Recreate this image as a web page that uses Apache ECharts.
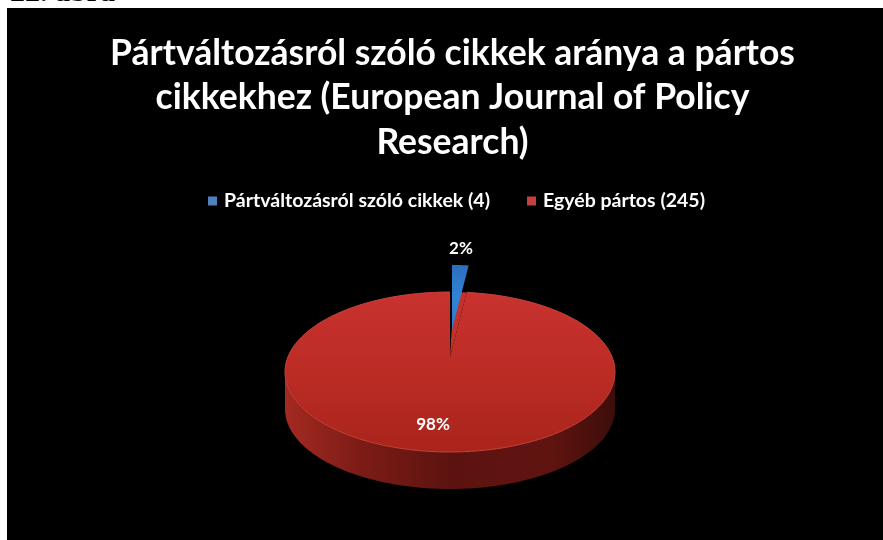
<!DOCTYPE html>
<html>
<head>
<meta charset="utf-8">
<style>html,body{margin:0;padding:0;background:#fff}#chart{width:883px;height:540px}</style>
<script src="https://cdn.jsdelivr.net/npm/echarts@6/dist/echarts.min.js"></script>
</head>
<body>
<div id="chart"></div>
<script>
const categories = ['Pártváltozásról szóló cikkek (4)', 'Egyéb pártos (245)'];
const values = [4, 245];
const titleText = 'Pártváltozásról szóló cikkek aránya a pártos\ncikkekhez (European Journal of Policy\nResearch)';
const captionText = '22. ábra';

// Tilted pie geometry, in pixels
const rim = { cx: 450, cy: 372, rx: 165, ry: 80, depth: 37 };
const apex = { x: 450, y: 357 };
const explode = { x: 2, y: -27 };
const total = values.reduce((a, b) => a + b, 0);

function rimPoint(angle, dy) {
  return [rim.cx + rim.rx * Math.sin(angle), rim.cy - rim.ry * Math.cos(angle) + (dy || 0)];
}
function arc(from, to, dy) {
  const pts = [];
  const steps = Math.max(4, Math.ceil(Math.abs(to - from) / 0.02));
  for (let i = 0; i <= steps; i++) pts.push(rimPoint(from + (to - from) * i / steps, dy));
  return pts;
}
function vGrad(stops) {
  return new echarts.graphic.LinearGradient(0, 0, 0, 1, stops.map((c, i) => ({ offset: i / (stops.length - 1), color: c })));
}
function hGrad(stops) {
  return new echarts.graphic.LinearGradient(0, 0, 1, 0, stops.map(s => ({ offset: s[0], color: s[1] })));
}
function label(text, x, y) {
  return {
    type: 'text', z2: 20,
    style: { text, x, y, fill: '#fff', font: 'bold 17px Lato', align: 'center', verticalAlign: 'middle' }
  };
}

// Larger slice: wall, inner cut face, top face and rim highlight
function renderOther(params, api) {
  const share = api.value(0) / total;
  const from = (1 - share) * 2 * Math.PI;
  const wall = arc(Math.PI / 2, 3 * Math.PI / 2, 0).concat(arc(3 * Math.PI / 2, Math.PI / 2, rim.depth));
  const top = [[apex.x, apex.y]].concat(arc(from, 2 * Math.PI, 0));
  const inner = [[apex.x, apex.y], rimPoint(from), rimPoint(from * 0.25)];
  return {
    type: 'group',
    children: [
      { type: 'polygon', shape: { points: wall },
        style: { fill: hGrad([[0, '#a32a22'], [0.22, '#7e1c16'], [0.5, '#5c1310'], [0.8, '#601410'], [1, '#3d0d0a']]) } },
      { type: 'polygon', shape: { points: inner }, style: { fill: '#c4312d' } },
      { type: 'polygon', shape: { points: top },
        style: { fill: vGrad(['#c9322f', '#bb2c25', '#a9241b']) } },
      { type: 'polyline', shape: { points: arc(from, 2 * Math.PI, 0) },
        style: { stroke: '#c6443b', lineWidth: 1, fill: 'none' } },
      label(Math.round(share * 100) + '%', 433, 425)
    ]
  };
}

// Small slice pulled away from the centre
function renderSplit(params, api) {
  const share = api.value(0) / total;
  const to = share * 2 * Math.PI;
  const shift = p => [p[0] + explode.x, p[1] + explode.y];
  const pts = [[apex.x, apex.y]].concat(arc(0, to, 0)).map(shift);
  return {
    type: 'group',
    children: [
      { type: 'polygon', shape: { points: pts },
        style: { fill: vGrad(['#2a6fbd', '#3383d6', '#2f78c6']) } },
      label(Math.round(share * 100) + '%', 461, 249)
    ]
  };
}

const chart = echarts.init(document.getElementById('chart'), null, { renderer: 'canvas' });
chart.setOption({
  backgroundColor: '#fff',
  animation: false,
  title: {
    text: titleText,
    left: 447.5, top: 26,
    textAlign: 'center',
    textStyle: { color: '#fff', fontFamily: 'Lato', fontWeight: 'bold', fontSize: 35.5, lineHeight: 44.5 }
  },
  legend: {
    left: 203, top: 186,
    itemWidth: 9, itemHeight: 9, itemGap: 37,
    icon: 'rect',
    data: categories,
    textStyle: { color: '#fff', fontFamily: 'Lato', fontWeight: 'bold', fontSize: 19.5, padding: [0, 0, 0, 2] }
  },
  graphic: [
    { type: 'text', z: -2, left: 10, top: -22,
      style: { text: captionText, fill: '#000', font: 'bold 30px "Liberation Serif"' } },
    { type: 'rect', z: -1, shape: { x: 7, y: 8, width: 876, height: 532 }, style: { fill: '#000' } }
  ],
  series: [
    { type: 'custom', name: categories[1], coordinateSystem: 'none', data: [values[1]],
      itemStyle: { color: '#c2413d' }, renderItem: renderOther, z: 2 },
    { type: 'custom', name: categories[0], coordinateSystem: 'none', data: [values[0]],
      itemStyle: { color: '#4f81bd' }, renderItem: renderSplit, z: 3 }
  ]
});
</script>
</body>
</html>
